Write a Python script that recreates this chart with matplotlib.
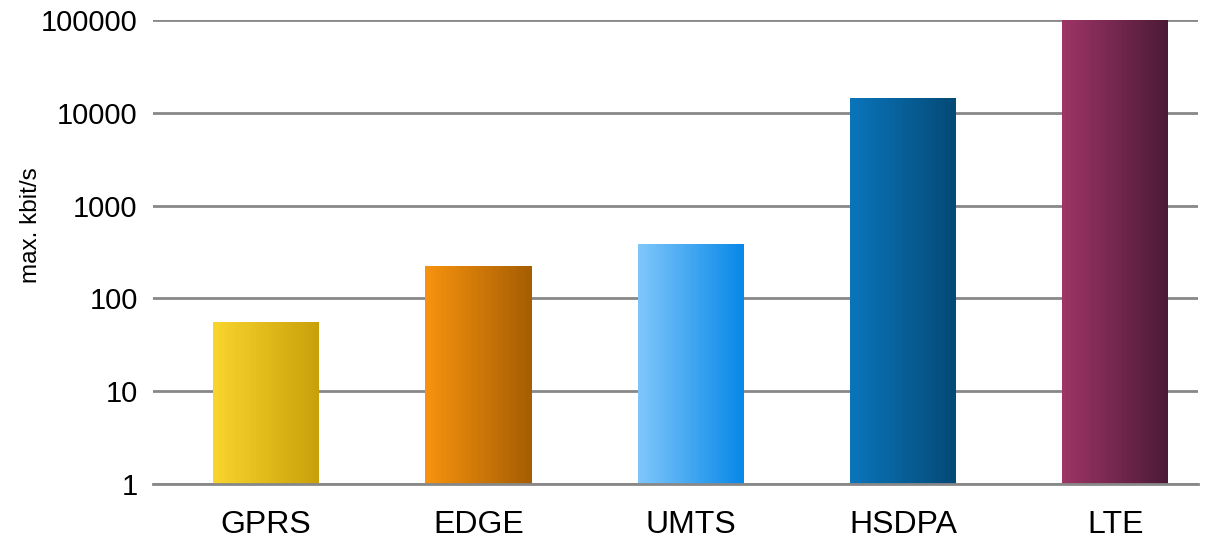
import matplotlib
matplotlib.use('Agg')
from matplotlib import pyplot
from matplotlib.colors import to_rgb
import numpy

# Technologien und maximale Datenrate
categories = ['GPRS', 'EDGE', 'UMTS', 'HSDPA', 'LTE']
rates = [55, 220, 384, 14400, 100000]
# Verlauf links -> rechts fuer jeden Balken
colors_left = ['#F8D42C', '#F6920E', '#7EC6FA', '#0A74BA', '#9C3466']
colors_right = ['#C9A00A', '#A65E02', '#0888E8', '#044A76', '#4C1A36']

pyplot.rcParams['font.family'] = ['Liberation Sans', 'DejaVu Sans']

fig = pyplot.figure(figsize=(12.18, 5.44), dpi=100)
ax = fig.add_axes([0.1256, 0.1103, 0.8580, 0.8529])
ax.set_yscale('log')

x = numpy.arange(len(categories))
width = 0.5
steps = 40
for i in range(len(categories)):
    c0 = numpy.array(to_rgb(colors_left[i]))
    c1 = numpy.array(to_rgb(colors_right[i]))
    for k in range(steps):
        t = k / (steps - 1)
        left = x[i] - width / 2 + k * width / steps
        ax.bar(left, rates[i], width=width / steps * 1.05, bottom=1,
               align='edge', color=c0 * (1 - t) + c1 * t, linewidth=0, zorder=2)

ax.set_ylim(1, 100000)
ax.set_xlim(-0.533, 4.39)
ax.set_yticks([1, 10, 100, 1000, 10000, 100000])
ax.set_yticklabels(['1', '10', '100', '1000', '10000', '100000'])
ax.yaxis.set_minor_locator(matplotlib.ticker.NullLocator())
ax.set_xticks(x)
ax.set_xticklabels(categories)

ax.grid(axis='y', color='#888888', linewidth=2, zorder=1)
ax.set_axisbelow(True)
for s in ['top', 'right', 'left']:
    ax.spines[s].set_visible(False)
ax.spines['bottom'].set_color('#888888')
ax.spines['bottom'].set_linewidth(2)

ax.tick_params(axis='y', length=0, pad=11, labelsize=21)
ax.tick_params(axis='x', length=0, pad=19, labelsize=23)
ax.set_ylabel('max. kbit/s', fontsize=17.5)
ax.yaxis.set_label_coords(-0.106, 0.558)

fig.savefig('out.png')
